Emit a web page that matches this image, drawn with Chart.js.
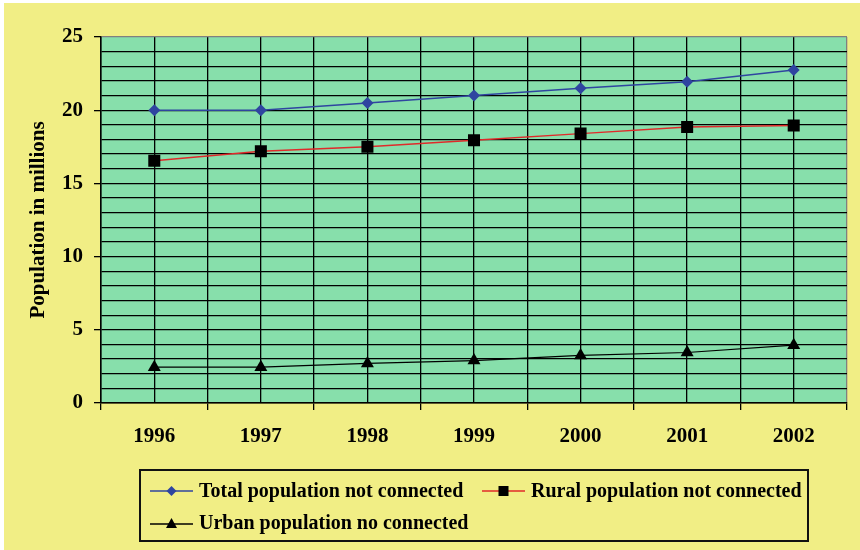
<!DOCTYPE html>
<html>
<head>
<meta charset="utf-8">
<script src="https://cdn.jsdelivr.net/npm/chart.js@4/dist/chart.umd.min.js"></script>
<style>
  body { margin: 0; background: #fff; }
  #wrap { position: relative; width: 860px; height: 550px; }
  #bg { position: absolute; left: 4px; top: 3px; right: 0; bottom: 0; background: #f1ee85; }
  #c { position: absolute; left: 0; top: 0; }
  #legend {
    position: absolute; left: 139px; top: 469px; width: 666px; height: 69px;
    border: 2px solid #111;
    font: bold 20px "Liberation Serif", "Times New Roman", serif; color: #000;
  }
  #legend .item { position: absolute; display: flex; align-items: center; white-space: nowrap; }
  #legend svg { margin-right: 6px; }
</style>
</head>
<body>
<div id="wrap">
  <div id="bg"></div>
  <canvas id="c" width="860" height="550"></canvas>
  <div id="legend">
    <div class="item" style="left:9px;top:8px;">
      <svg width="43" height="12"><line x1="0" y1="6" x2="43" y2="6" stroke="#2f45a0" stroke-width="1.5"/><polygon points="21.5,1 26.5,6 21.5,11 16.5,6" fill="#2f45a0"/></svg>
      <span>Total population not connected</span>
    </div>
    <div class="item" style="left:341px;top:8px;">
      <svg width="43" height="12"><line x1="0" y1="6" x2="43" y2="6" stroke="#e02a2a" stroke-width="1.5"/><rect x="16.5" y="1" width="10" height="10" fill="#000"/></svg>
      <span>Rural population not connected</span>
    </div>
    <div class="item" style="left:9px;top:40px;">
      <svg width="43" height="12"><line x1="0" y1="7" x2="43" y2="7" stroke="#000" stroke-width="1.5"/><polygon points="21.5,1 27,11 16,11" fill="#000"/></svg>
      <span>Urban population no connected</span>
    </div>
  </div>
</div>
<script>
// データ
const years = ["1996", "1997", "1998", "1999", "2000", "2001", "2002"];
const totalNotConnected = [20.0, 20.0, 20.5, 21.0, 21.5, 21.95, 22.75];
const ruralNotConnected = [16.55, 17.2, 17.5, 17.95, 18.4, 18.85, 18.95];
const urbanNotConnected = [2.45, 2.45, 2.7, 2.9, 3.25, 3.45, 3.95];
const yTicks = [0, 5, 10, 15, 20, 25];

const tickFont = { family: "'Liberation Serif', 'Times New Roman', serif", size: 21, weight: "bold" };

// プロット領域の背景
const plotBg = {
  id: "plotBg",
  beforeDraw(chart) {
    const a = chart.chartArea;
    const ctx = chart.ctx;
    ctx.save();
    ctx.fillStyle = "#87dfab";
    ctx.fillRect(a.left, a.top, a.right - a.left, a.bottom - a.top);
    ctx.restore();
  },
};

new Chart(document.getElementById("c").getContext("2d"), {
  type: "line",
  data: {
    labels: years,
    datasets: [
      {
        label: "Total population not connected",
        data: totalNotConnected,
        borderColor: "#2f45a0",
        backgroundColor: "#2f45a0",
        borderWidth: 1.5,
        pointStyle: "rectRot",
        pointRadius: 6,
        pointBorderWidth: 0,
        tension: 0,
      },
      {
        label: "Rural population not connected",
        data: ruralNotConnected,
        borderColor: "#e02a2a",
        backgroundColor: "#000",
        borderWidth: 1.5,
        pointStyle: "rect",
        pointRadius: 8.5,
        pointBorderWidth: 0,
        tension: 0,
      },
      {
        label: "Urban population no connected",
        data: urbanNotConnected,
        borderColor: "#000",
        backgroundColor: "#000",
        borderWidth: 1.2,
        pointStyle: "triangle",
        pointRadius: 7.5,
        pointBorderWidth: 0,
        tension: 0,
      },
    ],
  },
  options: {
    responsive: false,
    animation: false,
    layout: { padding: { top: 37, right: 13, left: 0, bottom: 0 } },
    plugins: { legend: { display: false }, tooltip: { enabled: false } },
    scales: {
      x: {
        type: "category",
        offset: true,
        grid: {
          offset: true,
          color: (c) => (c.type === "tick" ? "#000" : "#808080"),
          lineWidth: 1.3,
          tickLength: 7,
          tickColor: "#000",
        },
        border: { color: "#000", width: 1.5 },
        ticks: { font: tickFont, color: "#000", padding: 14, maxRotation: 0 },
        afterFit: (s) => { s.height = 147; },
      },
      x2: {
        type: "category",
        position: "top",
        offset: true,
        grid: { offset: false, color: "#000", lineWidth: 1.3, drawTicks: false },
        border: { display: false },
        ticks: { display: false },
        afterFit: (s) => { s.height = 0; },
      },
      y: {
        min: 0,
        max: 25,
        afterBuildTicks: (s) => {
          const t = [];
          for (let v = 0; v <= 25; v++) t.push({ value: v });
          s.ticks = t;
        },
        grid: {
          color: (c) => (c.tick && c.tick.value === 25 ? "#808080" : "#000"),
          lineWidth: 1.3,
          tickLength: 7,
          tickColor: (c) => (yTicks.includes(c.tick.value) ? "#000" : "rgba(0,0,0,0)"),
        },
        border: { color: "#000", width: 1.5 },
        ticks: {
          font: tickFont,
          color: "#000",
          padding: 11,
          autoSkip: false,
          callback: (v) => (yTicks.includes(v) ? v : ""),
        },
        title: {
          display: true,
          text: "Population in millions",
          font: tickFont,
          color: "#000",
          padding: { top: 26, bottom: 0 },
        },
        afterFit: (s) => { s.width = 101; },
      },
    },
  },
  plugins: [plotBg],
});
</script>
</body>
</html>
